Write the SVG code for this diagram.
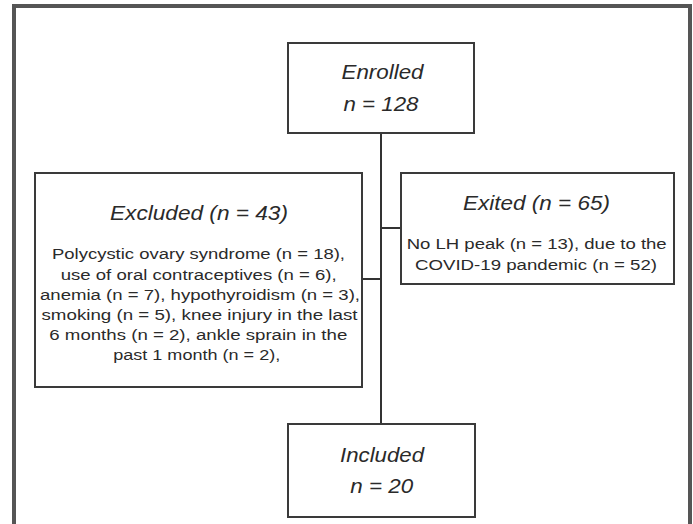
<svg xmlns="http://www.w3.org/2000/svg" width="693" height="524" viewBox="0 0 693 524">
<style>
.box{fill:#fff;stroke:#3a3a3a;stroke-width:2}
.frame{fill:none;stroke:#555;stroke-width:4}
.conn{fill:none;stroke:#333;stroke-width:2}
.t{font-family:"Liberation Sans",Arial,sans-serif;font-style:italic;font-size:20px;fill:#2a2a2a;text-anchor:middle}
.b{font-family:"Liberation Sans",Arial,sans-serif;font-size:15.5px;fill:#2a2a2a;text-anchor:middle}
</style>
<rect width="693" height="524" fill="#fff"/>
<path class="frame" d="M14,530 V6 H690 V530"/>
<g id="connectors">
<path class="conn" d="M381,133 V424"/>
<path class="conn" d="M381,228 H401"/>
<path class="conn" d="M362,279 H381"/>
</g>
<g id="enrolled">
<rect class="box" x="288" y="43" width="186" height="90"/>
<text class="t" x="382.5" y="79" textLength="82" lengthAdjust="spacingAndGlyphs">Enrolled</text>
<text class="t" x="381" y="111" textLength="75" lengthAdjust="spacingAndGlyphs">n = 128</text>
</g>
<g id="excluded">
<rect class="box" x="35" y="173" width="327" height="214"/>
<text class="t" x="199" y="220" textLength="178" lengthAdjust="spacingAndGlyphs">Excluded (n = 43)</text>
<text class="b" x="198.5" y="259" textLength="293" lengthAdjust="spacingAndGlyphs">Polycystic ovary syndrome (n = 18),</text>
<text class="b" x="198.7" y="280" textLength="276" lengthAdjust="spacingAndGlyphs">use of oral contraceptives (n = 6),</text>
<text class="b" x="200" y="300" textLength="320" lengthAdjust="spacingAndGlyphs">anemia (n = 7), hypothyroidism (n = 3),</text>
<text class="b" x="199.5" y="320" textLength="316" lengthAdjust="spacingAndGlyphs">smoking (n = 5), knee injury in the last</text>
<text class="b" x="198.3" y="340" textLength="298" lengthAdjust="spacingAndGlyphs">6 months (n = 2), ankle sprain in the</text>
<text class="b" x="196.7" y="360" textLength="167" lengthAdjust="spacingAndGlyphs">past 1 month (n = 2),</text>
</g>
<g id="exited">
<rect class="box" x="401" y="173" width="273" height="111"/>
<text class="t" x="536.5" y="210" textLength="147" lengthAdjust="spacingAndGlyphs">Exited (n = 65)</text>
<text class="b" x="536.7" y="249" textLength="260" lengthAdjust="spacingAndGlyphs">No LH peak (n = 13), due to the</text>
<text class="b" x="536" y="270" textLength="242" lengthAdjust="spacingAndGlyphs">COVID-19 pandemic (n = 52)</text>
</g>
<g id="included">
<rect class="box" x="288" y="424" width="187" height="93"/>
<text class="t" x="382" y="462" textLength="84" lengthAdjust="spacingAndGlyphs">Included</text>
<text class="t" x="381.7" y="493" textLength="63" lengthAdjust="spacingAndGlyphs">n = 20</text>
</g>
</svg>
